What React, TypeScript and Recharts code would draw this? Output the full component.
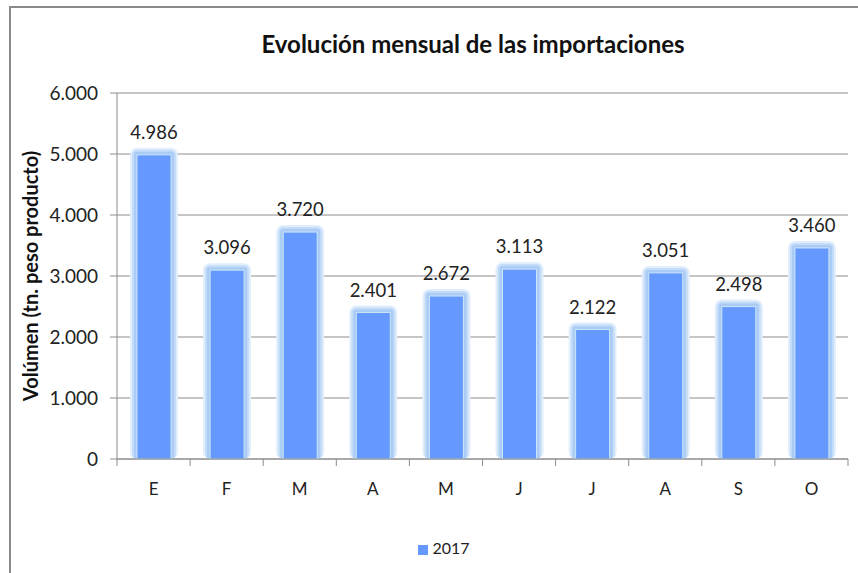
import React from 'react';
import { BarChart, Bar, XAxis, YAxis, CartesianGrid, Legend, LabelList } from 'recharts';

const months = ['E', 'F', 'M', 'A', 'M', 'J', 'J', 'A', 'S', 'O'];
const volumes2017 = [4986, 3096, 3720, 2401, 2672, 3113, 2122, 3051, 2498, 3460];
const yTicks = [0, 1000, 2000, 3000, 4000, 5000, 6000];

const W = 858;
const H = 573;
const PLOT_LEFT = 117;
const PLOT_RIGHT = 10;
const BAND = (W - PLOT_LEFT - PLOT_RIGHT) / months.length;

const data = months.map((m, i) => ({ key: `${m}${i}`, month: m, v2017: volumes2017[i] }));

const fmt = (v: number) => v.toLocaleString('de-DE');

const FONT = 'Lato, "Open Sans", sans-serif';
const GRID = '#8c8c8c';

const GlowBar = (props: any) => {
  const { x, y, width, height, fill } = props;
  if (!height || height <= 0) return null;
  return (
    <g>
      <rect x={x - 7} y={y - 7} width={width + 14} height={height + 7} rx={7} fill="#e1eefc" />
      <rect x={x - 5} y={y - 5} width={width + 10} height={height + 5} rx={5} fill="#c4dcf8" />
      <rect x={x - 3} y={y - 3} width={width + 6} height={height + 3} rx={3} fill="#a9cbf5" />
      <rect x={x} y={y} width={width} height={height} fill={fill} stroke="#c9e6f6" strokeWidth={1} />
    </g>
  );
};

const MonthTick = (props: any) => {
  const { x, y, payload, index } = props;
  const last = index === months.length - 1;
  return (
    <g>
      <line x1={x - BAND / 2} y1={y} x2={x - BAND / 2} y2={y + 7} stroke={GRID} />
      {last && <line x1={x + BAND / 2} y1={y} x2={x + BAND / 2} y2={y + 7} stroke={GRID} />}
      <text x={x} y={y + 36} textAnchor="middle" fontSize={17} fontFamily={FONT} fill="#222">
        {months[index] ?? payload.value}
      </text>
    </g>
  );
};

const YLabel = (props: any) => {
  const { viewBox } = props;
  const cx = 30;
  const cy = viewBox.y + viewBox.height / 2;
  return (
    <text
      x={cx}
      y={cy}
      transform={`rotate(-90, ${cx}, ${cy})`}
      textAnchor="middle"
      dominantBaseline="central"
      fontSize={20}
      fontWeight={700}
      fontFamily={FONT}
      fill="#111"
    >
      Volúmen (tn. peso producto)
    </text>
  );
};

export default function App() {
  return (
    <div style={{ position: 'absolute', left: 0, top: 0, width: W, height: H, background: '#fff', overflow: 'hidden' }}>
      <div
        style={{
          position: 'absolute',
          left: 9,
          top: 6,
          width: W + 20,
          height: H + 20,
          borderLeft: '2px solid #8a8a8a',
          borderTop: '2px solid #8a8a8a',
        }}
      />
      <div
        style={{
          position: 'absolute',
          left: 0,
          top: 29,
          width: 946,
          textAlign: 'center',
          fontFamily: FONT,
          fontWeight: 700,
          fontSize: 24,
          color: '#111',
        }}
      >
        Evolución mensual de las importaciones
      </div>
      <div style={{ position: 'absolute', left: 0, top: 0 }}>
        <BarChart
          width={W}
          height={H}
          data={data}
          margin={{ top: 93, right: PLOT_RIGHT, left: 0, bottom: 16 }}
          barSize={34}
        >
          <CartesianGrid vertical={false} stroke={GRID} strokeWidth={1} />
          <XAxis
            dataKey="key"
            axisLine={{ stroke: GRID }}
            tickLine={false}
            tickSize={0}
            tickMargin={0}
            height={79}
            interval={0}
            tick={<MonthTick />}
          />
          <YAxis
            width={PLOT_LEFT}
            domain={[0, 6000]}
            ticks={yTicks}
            interval={0}
            tickFormatter={fmt}
            axisLine={{ stroke: GRID }}
            tickLine={{ stroke: GRID }}
            tickSize={7}
            tickMargin={12}
            tick={{ fontSize: 19, fontFamily: FONT, fill: '#222' }}
            label={<YLabel />}
          />
          <Legend
            verticalAlign="bottom"
            iconType="square"
            iconSize={10}
            wrapperStyle={{ fontFamily: FONT, fontSize: 16, left: 25 }}
            formatter={(value: string) => <span style={{ color: '#222' }}>{value}</span>}
          />
          <Bar dataKey="v2017" name="2017" fill="#6699ff" shape={<GlowBar />} isAnimationActive={false}>
            <LabelList
              dataKey="v2017"
              position="top"
              offset={16}
              formatter={(v: any) => fmt(Number(v))}
              style={{ fontSize: 18.5, fontFamily: FONT, fill: '#222' }}
            />
          </Bar>
        </BarChart>
      </div>
    </div>
  );
}
